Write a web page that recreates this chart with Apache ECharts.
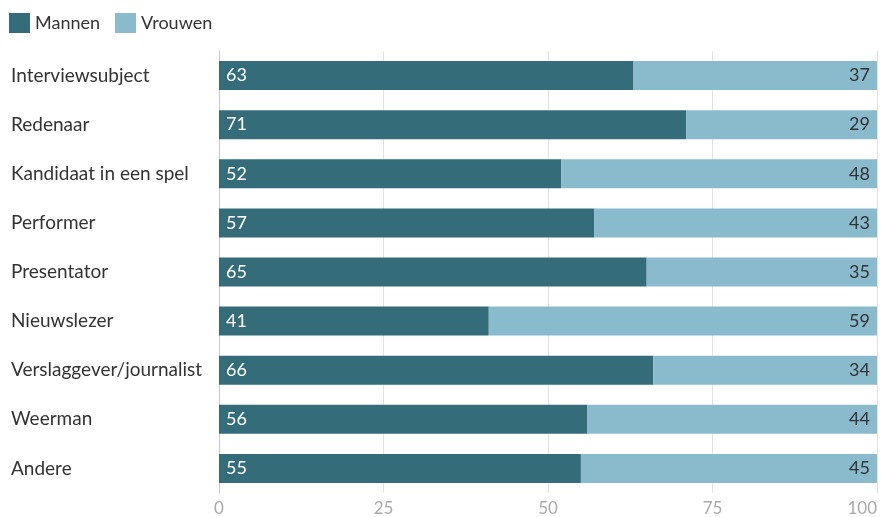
<!DOCTYPE html>
<html>
<head>
<meta charset="utf-8">
<script src="https://cdn.jsdelivr.net/npm/echarts@6/dist/echarts.min.js"></script>
<style>html,body{margin:0;padding:0;background:#fff}#c{width:881px;height:517px}</style>
</head>
<body>
<div id="c"></div>
<script>
const categories = ["Interviewsubject","Redenaar","Kandidaat in een spel","Performer","Presentator","Nieuwslezer","Verslaggever/journalist","Weerman","Andere"];
const mannen = [63,71,52,57,65,41,66,56,55];
const vrouwen = [37,29,48,43,35,59,34,44,45];
const seriesNames = ["Mannen","Vrouwen"];
const xTicks = [0,25,50,75,100];

const chart = echarts.init(document.getElementById('c'));
const font = 'Lato, "Open Sans", sans-serif';
chart.setOption({
  animation: false,
  textStyle: {fontFamily: font},
  legend: {
    left: 9, top: 13, padding: 0, itemWidth: 21, itemHeight: 20, itemGap: 15,
    icon: 'rect',
    textStyle: {fontSize: 18, color: '#333', fontFamily: font, padding: [0,0,0,0]},
    data: seriesNames
  },
  grid: {left: 219, right: 4, top: 51, bottom: 23, containLabel: false},
  xAxis: {
    type: 'value', min: xTicks[0], max: xTicks[xTicks.length-1], interval: 25,
    axisLine: {show: false}, axisTick: {show: false},
    splitLine: {show: true, lineStyle: {color: '#e3e3e3', width: 1}},
    axisLabel: {color: '#aaa', fontSize: 17, fontFamily: font, margin: 7, alignMaxLabel: 'right'}
  },
  yAxis: {
    type: 'category', data: categories, inverse: true,
    axisLine: {show: true, lineStyle: {color: '#c8c8c8', width: 1}},
    axisTick: {show: false},
    axisLabel: {align: 'left', margin: 208, color: '#333', fontSize: 19, fontFamily: font}
  },
  series: [
    {
      name: seriesNames[0], type: 'bar', stack: 't', data: mannen, barWidth: '59%',
      itemStyle: {color: '#346c7a'},
      label: {show: true, position: 'insideLeft', distance: 7, color: '#fff', fontSize: 18, fontFamily: font}
    },
    {
      name: seriesNames[1], type: 'bar', stack: 't', data: vrouwen, barWidth: '59%',
      itemStyle: {color: '#8abbcc'},
      label: {show: true, position: 'insideRight', distance: 7, color: '#333', fontSize: 18, fontFamily: font}
    }
  ]
});
</script>
</body>
</html>
